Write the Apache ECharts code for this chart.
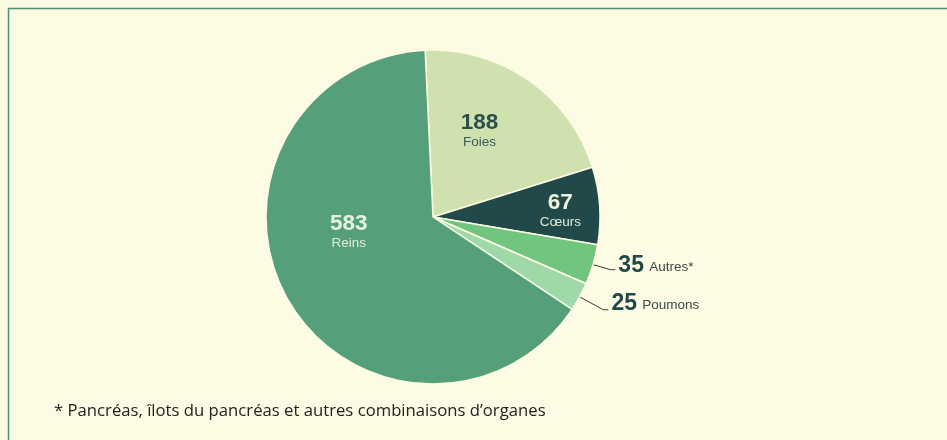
<!DOCTYPE html>
<html>
<head>
<meta charset="utf-8">
<script src="https://cdn.jsdelivr.net/npm/echarts@6/dist/echarts.min.js"></script>
<style>
  html, body { margin: 0; padding: 0; background: #fefbe4; }
  #chart { width: 947px; height: 440px; }
</style>
</head>
<body>
<div id="chart"></div>
<script>
// organes greffés
var organes = ['Foies', 'Cœurs', 'Autres*', 'Poumons', 'Reins'];
var greffes = [188, 67, 35, 25, 583];
var couleurs = ['#d0e1b0', '#22494a', '#72c57f', '#9fd9a9', '#55a07a'];
var note = '* Pancréas, îlots du pancréas et autres combinaisons d\u2019organes';

var myChart = echarts.init(document.getElementById('chart'));

// labels dedans : nombre en gras + nom
function inside(numColor, nameColor, offset) {
  return {
    show: true,
    position: 'inside',
    offset: offset,
    formatter: '{n|{c}}\n{t|{b}}',
    rich: {
      n: { fontFamily: 'Liberation Sans', fontWeight: 'bold', fontSize: 22.5, color: numColor, lineHeight: 22 },
      t: { fontFamily: 'Liberation Sans', fontSize: 13.5, color: nameColor, lineHeight: 17 }
    }
  };
}
// labels dehors avec trait
function outside(len, up) {
  return {
    label: {
      show: true,
      position: 'outside',
      formatter: '{n|{c}} {t|{b}}',
      distanceToLabelLine: 3,
      padding: [0, 0, up, 0],
      rich: {
        n: { fontFamily: 'Liberation Sans', fontWeight: 'bold', fontSize: 23, color: '#22494a' },
        t: { fontFamily: 'Liberation Sans', fontSize: 13.5, color: '#3b4a48', padding: [4, 0, 0, 2] }
      }
    },
    labelLine: { show: true, length: len, length2: 5, lineStyle: { color: '#3a3a3a', width: 1 } }
  };
}

var labels = [
  { label: inside('#2c4f4c', '#3d5a55', [-3, -15]) },
  { label: inside('#eef3dc', '#e2ecd4', [41, 0]) },
  outside(18, 8),
  outside(27, 12),
  { label: inside('#e6f2dc', '#e0eed6', [-9, -27]) }
];

var data = organes.map(function (o, i) {
  var d = { name: o, value: greffes[i], itemStyle: { color: couleurs[i] } };
  return Object.assign(d, labels[i]);
});

var option = {
  backgroundColor: '#fefbe4',
  animation: false,
  graphic: [
    {
      type: 'rect',
      shape: { x: 8.5, y: 8.5, width: 960, height: 460 },
      style: { fill: 'none', stroke: '#4a8d78', lineWidth: 1.5 },
      silent: true
    },
    {
      type: 'text',
      left: 54,
      top: 403,
      style: { text: note, fontFamily: 'Open Sans', fontSize: 16.7, fill: '#222' }
    }
  ],
  series: [
    {
      type: 'pie',
      center: [433, 217],
      radius: [0, 167],
      startAngle: 92.7,
      clockwise: true,
      itemStyle: { borderColor: '#fefbe4', borderWidth: 1.5 },
      emphasis: { disabled: true },
      data: data
    }
  ]
};

option && myChart.setOption(option);
</script>
</body>
</html>
